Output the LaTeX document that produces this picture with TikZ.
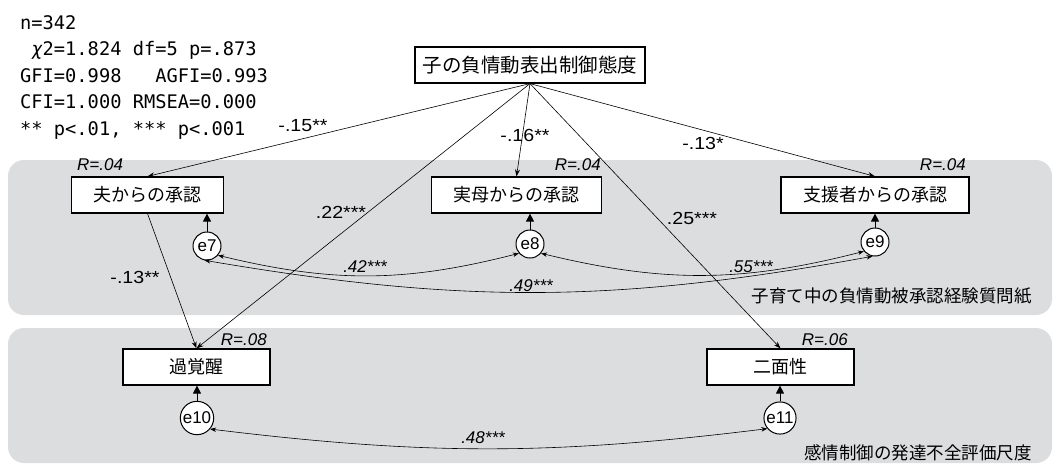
\documentclass[tikz,border=0pt]{standalone}
\usepackage{fontspec}
\setmainfont{Liberation Sans}
\newfontfamily\jp{Noto Sans CJK JP}
\newfontfamily\fitfont{DejaVu Sans Mono}
\newfontfamily\lbl[FakeStretch=1.12]{Liberation Sans}
\usetikzlibrary{arrows.meta}
\definecolor{panelgray}{RGB}{220,221,223}
\tikzset{
	var/.style={draw, line width=1.2pt, fill=white, minimum height=36pt, minimum width=147pt, inner xsep=22pt, font=\jp\fontsize{18}{18}\selectfont},
	err/.style={draw, circle, line width=1pt, fill=white, inner sep=1pt, minimum size=28pt, font=\fontsize{17}{17}\selectfont},
	coef/.style={inner sep=1pt, font=\lbl\fontsize{17.5}{17.5}\selectfont},
	rsq/.style={inner sep=1pt, font=\itshape\fontsize{17}{17}\selectfont},
	grp/.style={inner sep=0pt, anchor=east, font=\jp\fontsize{17.5}{17.5}\selectfont},
	arr/.style={-{Stealth[length=7pt,width=5pt]}, line width=0.6pt},
	dbl/.style={{Stealth[length=6pt,width=4.5pt]}-{Stealth[length=6pt,width=4.5pt]}, line width=0.6pt},
	up/.style={-{Triangle[length=8pt,width=8pt]}, line width=0.8pt}
}
\begin{document}
\begin{tikzpicture}[x=1pt, y=-1pt]

	\useasboundingbox (0, 0) rectangle (1054, 464);

	% panels
	\fill [panelgray, rounded corners=16pt] (8, 160) rectangle (1052, 315);
	\fill [panelgray, rounded corners=16pt] (8, 328) rectangle (1052, 463);

	% fit indices
	\node [anchor=north west, inner sep=0pt, align=left, font=\fitfont\fontsize{18.7}{26.5}\selectfont] (fit) at (20, 15)
		{n=342\\\ \textit{χ}2=1.824 df=5 p=.873\\GFI=0.998\ \ \ AGFI=0.993\\CFI=1.000 RMSEA=0.000\\** p<.01, *** p<.001};

	% observed variables
	\node [var, minimum width=230pt, inner xsep=7pt, font=\jp\fontsize{19.5}{19.5}\selectfont] (att) at (530, 65) {子の負情動表出制御態度};
	\node [var] (husband) at (147.5, 195) {夫からの承認};
	\node [var] (mother) at (516.5, 195) {実母からの承認};
	\node [var] (support) at (875, 195) {支援者からの承認};
	\node [var] (hyper) at (196.5, 367) {過覚醒};
	\node [var] (dual) at (780.5, 367) {二面性};

	% errors
	\node [err] (e7) at (207, 246) {e7};
	\node [err] (e8) at (530, 244) {e8};
	\node [err] (e9) at (875, 242) {e9};
	\node [err] (e10) at (197, 418) {e10};
	\node [err] (e11) at (780, 418) {e11};

	\draw [up] (e7) -- (e7 |- husband.south);
	\draw [up] (e8) -- (e8 |- mother.south);
	\draw [up] (e9) -- (e9 |- support.south);
	\draw [up] (e10) -- (e10 |- hyper.south);
	\draw [up] (e11) -- (e11 |- dual.south);

	% paths
	\draw [arr] (att.south) -- (husband.north);
	\draw [arr] (att.south) -- (mother.north);
	\draw [arr] (att.south) -- (support.north);
	\draw [arr] (att.south) -- (hyper.north);
	\draw [arr] (att.south) -- (dual.north);
	\draw [arr] (husband.south) -- (hyper.north);

	% covariances
	\draw [dbl] (e7.-40) to[bend right=14] (e8.-140);
	\draw [dbl] (e8.-40) to[bend right=14] (e9.-140);
	\draw [dbl] (e7.-100) to[bend right=10] (e9.-100);
	\draw [dbl] (e10.-40) to[bend right=7] (e11.-140);

	% coefficients
	\node [coef] (c1) at (303, 126) {-.15**};
	\node [coef] (c2) at (525, 135) {-.16**};
	\node [coef] (c3) at (703, 143) {-.13*};
	\node [coef] (c4) at (341, 212) {.22***};
	\node [coef] (c5) at (692, 218) {.25***};
	\node [coef] (c6) at (135, 277) {-.13**};

	\node [rsq] (r1) at (365, 267) {.42***};
	\node [rsq] (r2) at (751, 267) {.55***};
	\node [rsq] (r3) at (531, 286) {.49***};
	\node [rsq] (r4) at (483, 438) {.48***};

	\node [rsq, anchor=west] (rh) at (76, 165) {R=.04};
	\node [rsq, anchor=east] (rm) at (602, 165) {R=.04};
	\node [rsq, anchor=east] (rs) at (967, 165) {R=.04};
	\node [rsq, anchor=east] (rhy) at (268, 340) {R=.08};
	\node [rsq, anchor=east] (rd) at (849, 340) {R=.06};

	% scales
	\node [grp] (g1) at (1032, 296) {子育て中の負情動被承認経験質問紙};
	\node [grp] (g2) at (1032, 453) {感情制御の発達不全評価尺度};

\end{tikzpicture}
\end{document}
